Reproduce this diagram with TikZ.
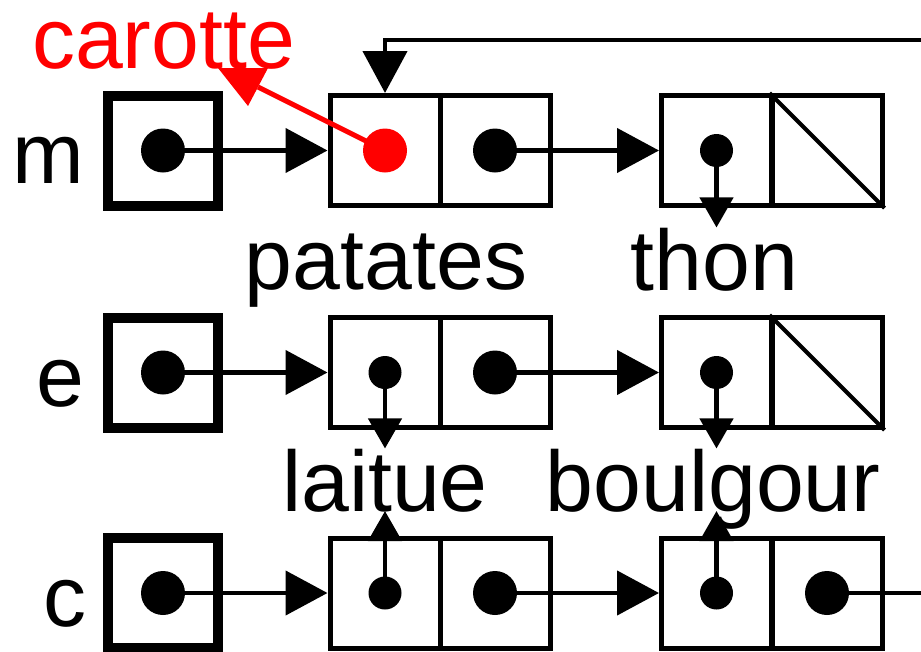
\documentclass[tikz,border=0pt]{standalone}
\usepackage{fontspec}
\setmainfont{Liberation Sans}
\usetikzlibrary{arrows.meta,calc}
\definecolor{pred}{RGB}{255,0,0}
\tikzset{
  cell/.style={draw, line width=5pt, minimum size=110pt, inner sep=0pt},
  ptrbox/.style={draw, line width=10pt, minimum size=110pt, inner sep=0pt},
  bigdot/.style={circle, fill, minimum size=44pt, inner sep=0pt},
  smalldot/.style={circle, fill, minimum size=33pt, inner sep=0pt},
  lbl/.style={font=\fontsize{86}{86}\selectfont, inner sep=0pt, anchor=base},
  link/.style={line width=4.5pt, -{Triangle[length=42pt,width=44pt]}},
  val/.style={line width=4.5pt, -{Triangle[length=30pt,width=33pt]}},
  plain/.style={line width=4.5pt}
}
\begin{document}
\begin{tikzpicture}[x=1pt,y=-1pt]
\useasboundingbox (0,0) rectangle (921,651);
% row m
\node[ptrbox] (mp) at (163,150.5) {};
\node[cell] (m1a) at (385,150.5) {};
\node[cell] (m1b) at (495,150.5) {};
\node[cell] (m2a) at (716.5,150.5) {};
\node[cell] (m2b) at (827,150.5) {};
\node[bigdot] (mpd) at (mp.center) {};
\node[bigdot, pred] (m1ad) at (m1a.center) {};
\node[bigdot] (m1bd) at (m1b.center) {};
\node[smalldot] (m2ad) at (m2a.center) {};
\draw[line width=4pt] (m2b.north west) -- (m2b.south east);
% row e
\node[ptrbox] (ep) at (163,372.5) {};
\node[cell] (e1a) at (385,372.5) {};
\node[cell] (e1b) at (495,372.5) {};
\node[cell] (e2a) at (716.5,372.5) {};
\node[cell] (e2b) at (827,372.5) {};
\node[bigdot] (epd) at (ep.center) {};
\node[smalldot] (e1ad) at (e1a.center) {};
\node[bigdot] (e1bd) at (e1b.center) {};
\node[smalldot] (e2ad) at (e2a.center) {};
\draw[line width=4pt] (e2b.north west) -- (e2b.south east);
% row c
\node[ptrbox] (cp) at (163,593) {};
\node[cell] (c1a) at (385,593) {};
\node[cell] (c1b) at (495,593) {};
\node[cell] (c2a) at (716.5,593) {};
\node[cell] (c2b) at (827,593) {};
\node[bigdot] (cpd) at (cp.center) {};
\node[smalldot] (c1ad) at (c1a.center) {};
\node[bigdot] (c1bd) at (c1b.center) {};
\node[smalldot] (c2ad) at (c2a.center) {};
\node[bigdot] (c2bd) at (c2b.center) {};
% names
\node[lbl] (lm) at (48.5,183) {m};
\node[lbl] (le) at (60.5,406) {e};
\node[lbl] (lc) at (65,626) {c};
% values
\node[lbl, text=pred] (carotte) at (163.5,68) {carotte};
\node[lbl] (patates) at (386,289) {patates};
\node[lbl] (thon) at (714.5,290) {thon};
\node[lbl] (laitue) at (385,511) {laitue};
\node[lbl] (boulgour) at (713,511) {boulgour};
% links
\draw[link] (mpd.center) -- (m1a.west);
\draw[link] (m1bd.center) -- (m2a.west);
\draw[link] (epd.center) -- (e1a.west);
\draw[link] (e1bd.center) -- (e2a.west);
\draw[link] (cpd.center) -- (c1a.west);
\draw[link] (c1bd.center) -- (c2a.west);
\coordinate (cend) at (925,593);
\draw[plain] (c2bd.center) -- (cend);
% feedback link
\coordinate (fb) at (925,40);
\draw[link] (fb) -| (m1a.north);
% value pointers
\draw[val] (m2ad.center) -- (m2ad |- thon.north);
\draw[val] (e1ad.center) -- (e1ad |- laitue.north);
\draw[val] (e2ad.center) -- (e2ad |- boulgour.north);
\draw[val] (c1ad.center) -- (c1ad |- laitue.base);
\draw[val] (c2ad.center) -- (c2ad |- boulgour.base);
% red pointer to carotte
\coordinate (rtip) at (258,87);
\draw[pred, line width=5pt] (m1ad.center) -- (rtip);
\fill[pred] (218,68) -- (268,68) -- (248,106) -- cycle;
\end{tikzpicture}
\end{document}
